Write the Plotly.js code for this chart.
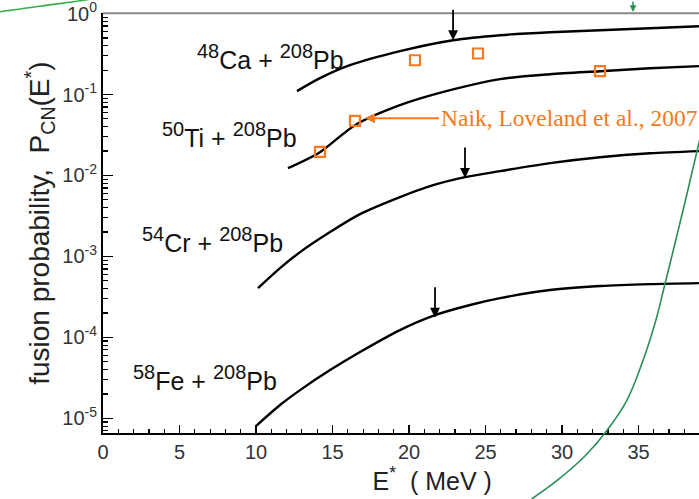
<!DOCTYPE html>
<html>
<head>
<meta charset="utf-8">
<script src="https://cdn.plot.ly/plotly-3.0.1.min.js"></script>
<style>html,body{margin:0;padding:0;background:#fff;}#chart{width:699px;height:499px;}</style>
</head>
<body>
<div id="chart"></div>
<script>
// ---- data ----
const caX = [12.68, 14.18, 16.14, 19.41, 22.88, 25.95, 29.22, 32.48, 35.75, 38.95];
const caY = [0.110, 0.159, 0.230, 0.343, 0.468, 0.540, 0.588, 0.622, 0.659, 0.697];

const tiX = [12.09, 14.18, 16.47, 19.41, 22.68, 25.95, 29.22, 32.48, 35.75, 38.95];
const tiY = [0.0123, 0.0194, 0.0418, 0.0738, 0.113, 0.155, 0.178, 0.194, 0.211, 0.224];

const crX = [10.13, 11.57, 12.88, 14.84, 16.80, 19.41, 21.37, 23.66, 25.95, 29.22, 32.48, 35.75, 38.95];
const crY = [4.06e-4, 7.18e-4, 1.13e-3, 2.00e-3, 3.33e-3, 5.40e-3, 7.38e-3, 9.53e-3, 0.0113, 0.0142, 0.0168, 0.0188, 0.0200];

const feX = [10.0, 11.57, 12.88, 14.84, 16.80, 19.41, 21.70, 23.99, 25.95, 29.22, 32.48, 35.75, 38.95];
const feY = [8.03e-6, 1.46e-5, 2.23e-5, 3.94e-5, 6.59e-5, 1.23e-4, 1.88e-4, 2.51e-4, 3.05e-4, 3.84e-4, 4.30e-4, 4.55e-4, 4.68e-4];

// experimental points (Naik, Loveland et al., 2007)
const expX = [14.18, 16.47, 20.39, 24.51, 32.48];
const expY = [0.0196, 0.0472, 0.265, 0.321, 0.194];

// stray green curves from the neighbouring figure
const greenX = [28.02, 29.87, 31.50, 32.81, 34.25, 35.42, 36.14, 36.73, 37.39, 38.04, 38.95, 39.35];
const greenY = [1.01e-6, 1.83e-6, 3.43e-6, 6.59e-6, 1.68e-5, 6.05e-5, 1.64e-4, 4.55e-4, 1.46e-3, 4.68e-3, 0.0251, 0.0509];
const green2X = [-6.9, -6.73, -4.0, -1.18, -0.5];
const green2Y = [1.04, 1.047, 1.23, 1.46, 1.55];

// arrows marking barrier positions
const arrowX = [22.88, 23.66, 21.70];
const arrowY = [0.468, 0.0093, 1.75e-4];

// labels
const reactionMass = ['48', '50', '54', '58'];
const reactionEl = ['Ca', 'Ti', 'Cr', 'Fe'];
const targetMass = '208';
const targetEl = 'Pb';
const yTickVals = [1e-5, 1e-4, 1e-3, 1e-2, 1e-1, 1];
const yTickText = ['10<sup>-5</sup>', '10<sup>-4</sup>', '10<sup>-3</sup>', '10<sup>-2</sup>', '10<sup>-1</sup>', '10<sup>0</sup>'];
const expLabel = 'Naik, Loveland et al., 2007';

// ---- chart ----
const minorY = [];
for (let e = -6; e < 0; e++) for (let m = 2; m <= 9; m++) minorY.push(m * Math.pow(10, e));

const curve = (x, y) => ({x, y, type: 'scatter', mode: 'lines',
  line: {color: '#000', width: 2.4, shape: 'spline', smoothing: 0.8}, hoverinfo: 'skip'});
const traces = [
  curve(caX, caY), curve(tiX, tiY), curve(crX, crY), curve(feX, feY),
  {x: expX, y: expY, type: 'scatter', mode: 'markers',
   marker: {symbol: 'square-open', size: 10, color: '#f47920', line: {width: 2.2, color: '#f47920'}}},
  {x: greenX, y: greenY, xaxis: 'x2', yaxis: 'y2', type: 'scatter', mode: 'lines',
   line: {color: '#2a8f57', width: 1.6, shape: 'spline', smoothing: 1}},
  {x: green2X, y: green2Y, xaxis: 'x2', yaxis: 'y2', type: 'scatter', mode: 'lines',
   line: {color: '#33b04a', width: 1.6, shape: 'spline'}}
];

const FONT = 'Liberation Sans, Arial, Helvetica, sans-serif';
const SUP = (s) => '<sup><span style="font-size:20px">' + s + '</span></sup>';
const annotations = [];
const labelPos = [[6.0, -0.54], [3.75, -1.50], [2.4, -2.80], [1.8, -4.50]];
reactionEl.forEach((el, i) => annotations.push({
  text: SUP(reactionMass[i]) + el + ' + ' + SUP(targetMass) + targetEl,
  x: labelPos[i][0], y: labelPos[i][1], xref: 'x', yref: 'y',
  xanchor: 'left', yanchor: 'middle', showarrow: false, font: {family: FONT, size: 25, color: '#111'}
}));
arrowX.forEach((x, i) => annotations.push({
  text: '', x: x, y: Math.log10(arrowY[i]), xref: 'x', yref: 'y', showarrow: true,
  arrowhead: 2, arrowsize: 1.1, arrowwidth: 1.8, arrowcolor: '#000', ax: 0, ay: -32
}));
annotations.push({
  text: expLabel, x: 17.12, y: -1.293, xref: 'x', yref: 'y', showarrow: true,
  arrowhead: 2, arrowsize: 1, arrowwidth: 2, arrowcolor: '#f47920', ax: 74, ay: 0,
  xanchor: 'left', yanchor: 'middle', font: {family: 'Liberation Serif, Times New Roman, serif', size: 23.5, color: '#f47920'}
});
annotations.push({
  text: '', x: 34.64, y: 0.016, xref: 'x2', yref: 'y2', showarrow: true,
  arrowhead: 2, arrowsize: 0.9, arrowwidth: 1.5, arrowcolor: '#2a8f57', ax: 0, ay: -16
});

const layout = {
  width: 699, height: 499,
  margin: {l: 0, r: 0, t: 0, b: 0},
  paper_bgcolor: '#fff', plot_bgcolor: 'rgba(0,0,0,0)',
  showlegend: false,
  font: {family: FONT, color: '#222'},
  xaxis: {
    domain: [103 / 699, 1], range: [0, 38.954], anchor: 'y',
    showgrid: false, zeroline: false, showline: true, linecolor: '#000', linewidth: 2,
    ticks: 'inside', ticklen: 8, tickwidth: 1.5, tickcolor: '#000', dtick: 5, tick0: 0,
    minor: {ticks: 'inside', ticklen: 4, tickwidth: 1.2, tickcolor: '#000', dtick: 1},
    tickfont: {family: FONT, size: 20, color: '#333'}, ticklabeloverflow: 'allow',
    title: {text: '&nbsp;&nbsp;&nbsp;&nbsp;&nbsp;&nbsp;&nbsp;&nbsp;&nbsp;E<sup>*</sup>  ( MeV )', font: {family: FONT, size: 25, color: '#222'}, standoff: 6}
  },
  yaxis: {
    type: 'log', domain: [66 / 499, 485.7 / 499], range: [-5.1815, 0.003], anchor: 'x',
    showgrid: false, zeroline: false, showline: true, linecolor: '#000', linewidth: 2,
    ticks: 'inside', ticklen: 10, tickwidth: 1.5, tickcolor: '#000',
    tickmode: 'array', tickvals: yTickVals, ticktext: yTickText,
    minor: {tickmode: 'array', tickvals: minorY, ticks: 'inside', ticklen: 5, tickwidth: 1.2, tickcolor: '#000'},
    tickfont: {family: FONT, size: 20, color: '#333'}, ticklabeloverflow: 'allow',
    title: {text: 'fusion probability,  P<sub>CN</sub>(E<sup>*</sup>)', font: {family: FONT, size: 28, color: '#222'}, standoff: 4}
  },
  xaxis2: {domain: [0, 1], range: [-6.732, 38.954], anchor: 'y2', visible: false, fixedrange: true},
  yaxis2: {type: 'log', domain: [0, 1], range: [-5.996, 0.1642], anchor: 'x2', visible: false, fixedrange: true},
  shapes: [{type: 'line', xref: 'x domain', yref: 'y domain', x0: 0, x1: 1, y0: 1, y1: 1,
            line: {color: '#888', width: 2}}],
  annotations: annotations
};

Plotly.newPlot('chart', traces, layout, {displayModeBar: false, staticPlot: true});
</script>
</body>
</html>
